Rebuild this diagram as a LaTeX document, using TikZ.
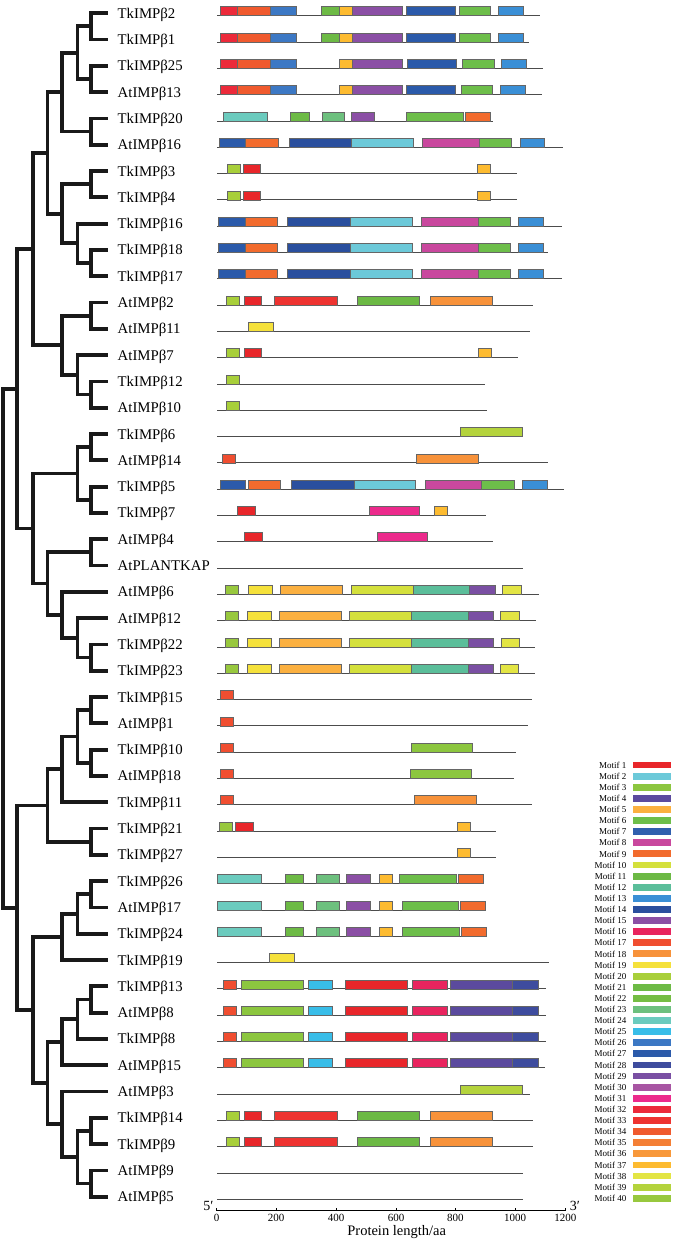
\documentclass[tikz,border=0pt]{standalone}
\usepackage{fontspec}
\setmainfont{Liberation Serif}
\definecolor{m1}{HTML}{E8262A}
\definecolor{m2}{HTML}{6CC9D9}
\definecolor{m3}{HTML}{8CC63F}
\definecolor{m4}{HTML}{5B4A9E}
\definecolor{m5}{HTML}{FBB040}
\definecolor{m6}{HTML}{6DBE4A}
\definecolor{m7}{HTML}{2F5FAE}
\definecolor{m8}{HTML}{C9489E}
\definecolor{m9}{HTML}{F26B2D}
\definecolor{m10}{HTML}{D4E03C}
\definecolor{m11}{HTML}{6CB944}
\definecolor{m12}{HTML}{5BBE9A}
\definecolor{m13}{HTML}{3A8FD6}
\definecolor{m14}{HTML}{2A4F9E}
\definecolor{m15}{HTML}{8B4FA5}
\definecolor{m16}{HTML}{E8245E}
\definecolor{m17}{HTML}{F04E30}
\definecolor{m18}{HTML}{F7923A}
\definecolor{m19}{HTML}{F5E13B}
\definecolor{m20}{HTML}{A8CF3A}
\definecolor{m21}{HTML}{6DBA45}
\definecolor{m22}{HTML}{75BD43}
\definecolor{m23}{HTML}{6DC07E}
\definecolor{m24}{HTML}{6BCBBE}
\definecolor{m25}{HTML}{38BDE8}
\definecolor{m26}{HTML}{3C78C4}
\definecolor{m27}{HTML}{2B5AAA}
\definecolor{m28}{HTML}{3E4C9E}
\definecolor{m29}{HTML}{7A4FA3}
\definecolor{m30}{HTML}{A855A3}
\definecolor{m31}{HTML}{EC2A8C}
\definecolor{m32}{HTML}{EC2A3A}
\definecolor{m33}{HTML}{EE3330}
\definecolor{m34}{HTML}{F05A2E}
\definecolor{m35}{HTML}{F47F35}
\definecolor{m36}{HTML}{F8983A}
\definecolor{m37}{HTML}{FDBB30}
\definecolor{m38}{HTML}{E3E544}
\definecolor{m39}{HTML}{B4D33C}
\definecolor{m40}{HTML}{98C83E}
\tikzset{
  tree/.style={line width=3.8pt, line cap=rect, line join=miter, black!90},
  lab/.style={font=\fontsize{14.8}{16}\selectfont, inner sep=0pt, anchor=base west},
  backbone/.style={line width=0.8pt, black!70},
  motif/.style={draw=black!60, line width=0.5pt},
  leglab/.style={font=\fontsize{9}{10}\selectfont, inner sep=0pt, anchor=east},
  ticklab/.style={font=\fontsize{11}{12}\selectfont, inner sep=0pt},
}
\newcommand{\treeclade}[5]{%
  \coordinate (#1) at (#2,{13.2+(#3-1)*26.3});
  \draw[tree] (#4) -| (#1) |- (#5);
}
\newcommand{\motifbar}[4]{%
  \pgfmathsetmacro{\ybar}{15.7+(#1-1)*26.3}
  \filldraw[motif, fill=#4] (#2,\ybar-9) rectangle (#3,\ybar);
}
\begin{document}
\begin{tikzpicture}[x=1pt,y=-1pt]
\useasboundingbox (0,0) rectangle (683,1239);
% leaves and labels
\foreach \i/\t in {1/TkIMPβ2,2/TkIMPβ1,3/TkIMPβ25,4/AtIMPβ13,5/TkIMPβ20,6/AtIMPβ16,7/TkIMPβ3,8/TkIMPβ4,9/TkIMPβ16,10/TkIMPβ18,11/TkIMPβ17,12/AtIMPβ2,13/AtIMPβ11,14/AtIMPβ7,15/TkIMPβ12,16/AtIMPβ10,17/TkIMPβ6,18/AtIMPβ14,19/TkIMPβ5,20/TkIMPβ7,21/AtIMPβ4,22/AtPLANTKAP,23/AtIMPβ6,24/AtIMPβ12,25/TkIMPβ22,26/TkIMPβ23,27/TkIMPβ15,28/AtIMPβ1,29/TkIMPβ10,30/AtIMPβ18,31/TkIMPβ11,32/TkIMPβ21,33/TkIMPβ27,34/TkIMPβ26,35/AtIMPβ17,36/TkIMPβ24,37/TkIMPβ19,38/TkIMPβ13,39/AtIMPβ8,40/TkIMPβ8,41/AtIMPβ15,42/AtIMPβ3,43/TkIMPβ14,44/TkIMPβ9,45/AtIMPβ9,46/AtIMPβ5}{
  \coordinate (L\i) at (106.5,{13.2+(\i-1)*26.3});
  \node[lab] (t\i) at (117.5,{13.2+(\i-1)*26.3+5}) {\t};
}
% tree
\treeclade{n12}{91}{1.5}{L1}{L2}
\treeclade{n34}{91}{3.5}{L3}{L4}
\treeclade{n14}{77.5}{2.5}{n12}{n34}
\treeclade{n56}{91}{5.5}{L5}{L6}
\treeclade{n16}{61.7}{4}{n14}{n56}
\treeclade{n78}{91}{7.5}{L7}{L8}
\treeclade{n1011}{91}{10.5}{L10}{L11}
\treeclade{n911}{77.5}{9.75}{L9}{n1011}
\treeclade{n711}{61.7}{8.625}{n78}{n911}
\treeclade{n111}{47.5}{6.3125}{n16}{n711}
\treeclade{n1213}{91}{12.5}{L12}{L13}
\treeclade{n1516}{91}{15.5}{L15}{L16}
\treeclade{n1416}{77.5}{14.75}{L14}{n1516}
\treeclade{n1216}{61.7}{13.625}{n1213}{n1416}
\treeclade{n116}{32.7}{9.96875}{n111}{n1216}
\treeclade{n1718}{91}{17.5}{L17}{L18}
\treeclade{n1920}{91}{19.5}{L19}{L20}
\treeclade{n1720}{77.5}{18.5}{n1718}{n1920}
\treeclade{n2122}{91}{21.5}{L21}{L22}
\treeclade{n2526}{91}{25.5}{L25}{L26}
\treeclade{n2426}{77.5}{24.75}{L24}{n2526}
\treeclade{n2326}{61.7}{23.875}{L23}{n2426}
\treeclade{n2126}{47.5}{22.6875}{n2122}{n2326}
\treeclade{n1726}{32.7}{20.59375}{n1720}{n2126}
\treeclade{nA}{16.7}{15.28125}{n116}{n1726}
\treeclade{n2728}{91}{27.5}{L27}{L28}
\treeclade{n2930}{91}{29.5}{L29}{L30}
\treeclade{n2730}{77.5}{28.5}{n2728}{n2930}
\treeclade{n2731}{61.7}{29.75}{n2730}{L31}
\treeclade{n3233}{91}{32.5}{L32}{L33}
\treeclade{n2733}{47.5}{31.125}{n2731}{n3233}
\treeclade{n3435}{91}{34.5}{L34}{L35}
\treeclade{n3436}{77.5}{35.25}{n3435}{L36}
\treeclade{n3437}{61.7}{36.125}{n3436}{L37}
\treeclade{n3839}{91}{38.5}{L38}{L39}
\treeclade{n3840}{77.5}{39.25}{n3839}{L40}
\treeclade{n3841}{61.7}{40.125}{n3840}{L41}
\treeclade{n4344}{91}{43.5}{L43}{L44}
\treeclade{n4546}{91}{45.5}{L45}{L46}
\treeclade{n4346}{77.5}{44.5}{n4344}{n4546}
\treeclade{n4246}{61.7}{43.25}{L42}{n4346}
\treeclade{n3846}{47.5}{41.6875}{n3841}{n4246}
\treeclade{n3446}{32.7}{38.90625}{n3437}{n3846}
\treeclade{nB}{16.7}{35.015625}{n2733}{n3446}
\treeclade{root}{3.3}{25.1484375}{nA}{nB}
% backbones
\foreach \i/\e in {1/540,2/529.3,3/543.3,4/542.3,5/492.7,6/562.7,7/517.3,8/516.7,9/561.7,10/547.7,11/561.7,12/533.3,13/530,14/518.3,15/485,16/486.7,17/522.7,18/547.7,19/564.3,20/486,21/493.3,22/523.3,23/539,24/536,25/535,26/535,27/531.7,28/528.3,29/515.7,30/514,31/531.7,32/496,33/496,34/484,35/486,36/486.5,37/549.3,38/546,39/546,40/546,41/545,42/530,43/533.3,44/533.3,45/523.3,46/523.3}{
  \draw[backbone] (217.3,{15.7+(\i-1)*26.3}) -- (\e,{15.7+(\i-1)*26.3});
}
% motif bars
\foreach \r in {1,2}{
\motifbar{\r}{220}{237.7}{m32}\motifbar{\r}{237.7}{270}{m34}\motifbar{\r}{270}{296.7}{m26}
\motifbar{\r}{321}{339.3}{m21}\motifbar{\r}{339.3}{352.3}{m37}\motifbar{\r}{352.3}{402.3}{m15}
\motifbar{\r}{406}{455.7}{m27}\motifbar{\r}{459.3}{490.7}{m6}\motifbar{\r}{498.3}{523.3}{m13}}
\motifbar{3}{220}{237.7}{m32}\motifbar{3}{237.7}{270}{m34}\motifbar{3}{270}{296.7}{m26}
\motifbar{3}{339.3}{352.7}{m37}\motifbar{3}{352.7}{402.7}{m15}\motifbar{3}{407}{456.7}{m27}
\motifbar{3}{462.3}{494.3}{m6}\motifbar{3}{501.7}{526.7}{m13}
\motifbar{4}{220}{237.7}{m32}\motifbar{4}{237.7}{270}{m34}\motifbar{4}{270}{296.7}{m26}
\motifbar{4}{339.3}{352.7}{m37}\motifbar{4}{352.7}{402.7}{m15}\motifbar{4}{406}{455.7}{m27}
\motifbar{4}{461}{492.7}{m6}\motifbar{4}{500.3}{525}{m13}
\motifbar{5}{223.3}{267.3}{m24}\motifbar{5}{290.7}{309}{m21}\motifbar{5}{322.3}{344.7}{m23}
\motifbar{5}{351.7}{374.7}{m15}\motifbar{5}{406.7}{463.3}{m6}\motifbar{5}{465.7}{490.7}{m9}
\motifbar{6}{219.3}{245.7}{m27}\motifbar{6}{245.7}{278}{m9}\motifbar{6}{289}{351.7}{m14}
\motifbar{6}{351.7}{413.3}{m2}\motifbar{6}{422.3}{479.3}{m8}\motifbar{6}{479.3}{511.7}{m6}
\motifbar{6}{520}{544.7}{m13}
\foreach \r in {7,8}{
\motifbar{\r}{227.3}{240}{m20}\motifbar{\r}{243.3}{260.7}{m1}\motifbar{\r}{477.7}{490.3}{m37}}
\foreach \r in {9,10,11}{
\motifbar{\r}{218.3}{245}{m27}\motifbar{\r}{245}{277}{m9}\motifbar{\r}{287.7}{350.3}{m14}
\motifbar{\r}{350.3}{412.3}{m2}\motifbar{\r}{421.3}{478.3}{m8}\motifbar{\r}{478.3}{510}{m6}
\motifbar{\r}{518.3}{543.3}{m13}}
\foreach \r in {12,43,44}{
\motifbar{\r}{226.7}{239.7}{m20}\motifbar{\r}{244}{261.7}{m1}\motifbar{\r}{274.7}{337.3}{m33}
\motifbar{\r}{357.7}{419.7}{m11}\motifbar{\r}{430.7}{492.7}{m18}}
\motifbar{13}{248.3}{273.3}{m19}
\motifbar{14}{226.7}{239.7}{m20}\motifbar{14}{244}{261.7}{m1}\motifbar{14}{478.7}{491.7}{m37}
\motifbar{15}{226.7}{239.7}{m20}
\motifbar{16}{226.7}{239.7}{m20}
\motifbar{17}{460}{522.3}{m39}
\motifbar{18}{222.3}{235.3}{m17}\motifbar{18}{416}{478.3}{m18}
\motifbar{19}{220.7}{245.7}{m27}\motifbar{19}{248.3}{280.7}{m9}\motifbar{19}{291.3}{354}{m14}
\motifbar{19}{354}{415.7}{m2}\motifbar{19}{425.3}{481.7}{m8}\motifbar{19}{481.7}{514}{m6}
\motifbar{19}{522.3}{547.3}{m13}
\motifbar{20}{237}{255}{m1}\motifbar{20}{369.7}{419.7}{m31}\motifbar{20}{434.3}{447.7}{m37}
\motifbar{21}{244.3}{262.3}{m1}\motifbar{21}{377}{427}{m31}
\motifbar{23}{225.7}{238.7}{m40}\motifbar{23}{248.3}{272.7}{m19}\motifbar{23}{280.3}{342.7}{m5}
\motifbar{23}{351.3}{413.3}{m10}\motifbar{23}{413.3}{469.7}{m12}\motifbar{23}{469.7}{495}{m29}
\motifbar{23}{502.3}{521.3}{m38}
\motifbar{24}{225.7}{238.7}{m40}\motifbar{24}{247}{271.7}{m19}\motifbar{24}{279.3}{341}{m5}
\motifbar{24}{349.3}{411.3}{m10}\motifbar{24}{411.3}{468.3}{m12}\motifbar{24}{468.3}{493.7}{m29}
\motifbar{24}{500.3}{519}{m38}
\motifbar{25}{225.7}{238.7}{m40}\motifbar{25}{247}{271.7}{m19}\motifbar{25}{279.3}{341.7}{m5}
\motifbar{25}{349.7}{411.7}{m10}\motifbar{25}{411.7}{468.7}{m12}\motifbar{25}{468.7}{493.7}{m29}
\motifbar{25}{501.7}{519.7}{m38}
\motifbar{26}{225.7}{238.7}{m40}\motifbar{26}{247}{271.7}{m19}\motifbar{26}{279.3}{341.7}{m5}
\motifbar{26}{349.7}{411.7}{m10}\motifbar{26}{411.7}{468.7}{m12}\motifbar{26}{468.7}{493.7}{m29}
\motifbar{26}{500.3}{518.7}{m38}
\motifbar{27}{220}{233.3}{m17}
\motifbar{28}{220}{233.3}{m17}
\motifbar{29}{220}{233.3}{m17}\motifbar{29}{411.7}{472.7}{m3}
\motifbar{30}{220}{233.3}{m17}\motifbar{30}{410.3}{471.3}{m3}
\motifbar{31}{220}{233.3}{m17}\motifbar{31}{414}{476}{m18}
\motifbar{32}{219.3}{232.7}{m40}\motifbar{32}{235.7}{253.7}{m1}\motifbar{32}{457.7}{470.7}{m37}
\motifbar{33}{457.7}{470.7}{m37}
\motifbar{34}{217.3}{261.7}{m24}\motifbar{34}{285}{303}{m21}\motifbar{34}{316.3}{339.7}{m23}
\motifbar{34}{346.3}{370}{m15}\motifbar{34}{379}{392}{m37}\motifbar{34}{399.3}{456.7}{m6}
\motifbar{34}{458.3}{483.7}{m9}
\motifbar{35}{217.3}{261.7}{m24}\motifbar{35}{285}{303}{m21}\motifbar{35}{316.3}{339.7}{m23}
\motifbar{35}{346.3}{370}{m15}\motifbar{35}{379}{392}{m37}\motifbar{35}{402}{458.7}{m6}
\motifbar{35}{460.3}{485.7}{m9}
\motifbar{36}{217.3}{261.7}{m24}\motifbar{36}{285}{303}{m21}\motifbar{36}{316.7}{339.7}{m23}
\motifbar{36}{346.7}{370.7}{m15}\motifbar{36}{379.3}{392.3}{m37}\motifbar{36}{402.3}{459.7}{m6}
\motifbar{36}{461.3}{486}{m9}
\motifbar{37}{269.3}{294.3}{m19}
\foreach \r in {38,39,40,41}{
\motifbar{\r}{223.3}{236.7}{m17}\motifbar{\r}{241.7}{303.3}{m3}\motifbar{\r}{308}{332.7}{m25}
\motifbar{\r}{345.7}{407.7}{m1}\motifbar{\r}{412.3}{447.7}{m16}\motifbar{\r}{450.7}{512.7}{m4}
\motifbar{\r}{512.7}{538}{m28}}
\motifbar{42}{460}{522}{m39}
% axis
\coordinate (ax0) at (216.7,1210.7);
\coordinate (ax1) at (565.3,1210.7);
\draw[line width=0.8pt] (ax0) -- (ax1);
\foreach \x/\v in {216.7/0,276/200,336/400,396/600,455.3/800,515/1000,565.3/1200}{
  \draw[line width=0.8pt] (\x,1210.7) -- (\x,1207.7);
  \node[ticklab] (tk\v) at (\x,1217.8) {\v};
}
\node[font=\fontsize{14}{15}\selectfont, inner sep=0pt] (five) at (208.3,1205.5) {5′};
\node[font=\fontsize{14}{15}\selectfont, inner sep=0pt] (three) at (575,1205.5) {3′};
\node[font=\fontsize{14.5}{15}\selectfont, inner sep=0pt, anchor=base] (xlab) at (396.7,1235.5) {Protein length/aa};
% legend
\foreach \k in {1,...,40}{
  \node[leglab] (lg\k) at (626.5,{765+(\k-1)*11.11}) {Motif \k};
  \fill[m\k] (633.3,{765+(\k-1)*11.11-3.4}) rectangle (671,{765+(\k-1)*11.11+3.4});
}
\end{tikzpicture}
\end{document}
